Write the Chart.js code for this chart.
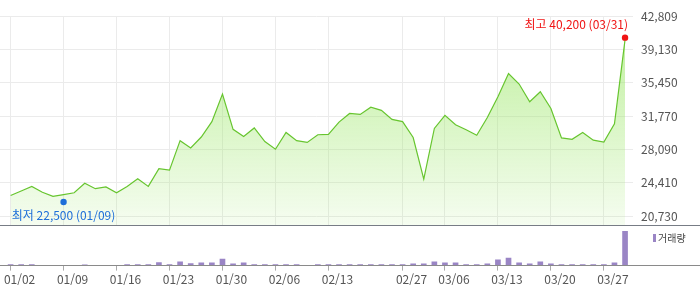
<!DOCTYPE html>
<html lang="ko">
<head>
<meta charset="utf-8">
<script src="https://cdn.jsdelivr.net/npm/chart.js@4.4.1/dist/chart.umd.min.js"></script>
<style>
body { margin: 0; background: #fff; }
#wrap { width: 700px; height: 289px; position: relative; }
#pricebox { position: absolute; left: 0; top: 0; width: 700px; height: 225px; }
#volbox { position: absolute; left: 0; top: 225px; width: 700px; height: 64px; }
</style>
</head>
<body>
<div id="wrap">
  <div id="pricebox"><canvas id="priceChart"></canvas></div>
  <div id="volbox"><canvas id="volChart"></canvas></div>
</div>
<script>
// trading days (holidays skipped)
const dates = [
  '01/02', '01/05', '01/06', '01/07', '01/08', '01/09', '01/12', '01/13', '01/14', '01/15',
  '01/16', '01/19', '01/20', '01/21', '01/22', '01/23', '01/26', '01/27', '01/28', '01/29',
  '01/30', '02/02', '02/03', '02/04', '02/05', '02/06', '02/09', '02/10', '02/11', '02/12',
  '02/13', '02/19', '02/20', '02/23', '02/24', '02/25', '02/26', '02/27', '03/03', '03/04',
  '03/05', '03/06', '03/09', '03/10', '03/11', '03/12', '03/13', '03/16', '03/17', '03/18',
  '03/19', '03/20', '03/23', '03/24', '03/25', '03/26', '03/27', '03/30', '03/31'
];

const prices = [
  23000, 23500, 24000, 23350, 22900, 23100, 23300, 24350, 23750, 23950,
  23300, 24000, 24850, 24000, 25950, 25800, 29050, 28250, 29450, 31150,
  34200, 30300, 29500, 30450, 28950, 28100, 29950, 29050, 28850, 29700,
  29750, 31100, 32050, 31950, 32750, 32400, 31400, 31150, 29400, 24800,
  30400, 31850, 30800, 30250, 29650, 31600, 33900, 36450, 35300, 33350,
  34450, 32600, 29350, 29200, 29950, 29100, 28900, 30900, 40200
];

const volumes = [
  95000, 110000, 100000, 20000, 15000, 20000, 25000, 90000, 20000, 15000,
  20000, 100000, 110000, 100000, 310000, 100000, 400000, 210000, 300000, 300000,
  700000, 200000, 300000, 100000, 110000, 100000, 100000, 100000, 20000, 100000,
  100000, 110000, 100000, 100000, 110000, 100000, 100000, 100000, 200000, 200000,
  400000, 300000, 300000, 100000, 100000, 200000, 600000, 800000, 300000, 200000,
  400000, 200000, 100000, 100000, 100000, 100000, 100000, 300000, 3630000
];

const priceTicks = [20730, 24410, 28090, 31770, 35450, 39130, 42809];
const dateTicks = ['01/02', '01/09', '01/16', '01/23', '01/30', '02/06', '02/13', '02/27', '03/06', '03/13', '03/20', '03/27'];
const highPoint = { date: '03/31', value: 40200 };
const lowPoint = { date: '01/09', value: 22500 };

const FONT = "'Noto Sans CJK KR', 'Noto Sans', sans-serif";
const tickIdx = dateTicks.map(d => dates.indexOf(d));
const xMin = -1;
const xMax = dates.length - 0.25;

function setDateTicks(scale) { scale.ticks = tickIdx.map(v => ({ value: v })); }
function noSidePad(scale) { scale.paddingLeft = 0; scale.paddingRight = 0; }

// high / low markers with their labels
const markPlugin = {
  id: 'marks',
  afterDatasetsDraw(chart) {
    const { ctx, chartArea, scales: { x, y } } = chart;
    ctx.save();
    ctx.font = '12px ' + FONT;
    ctx.textBaseline = 'middle';
    [[highPoint, '#f01414', -1, '최고 '], [lowPoint, '#1e6fd9', 1, '최저 ']].forEach(([pt, color, dir, word]) => {
      const px = x.getPixelForValue(dates.indexOf(pt.date));
      const py = y.getPixelForValue(pt.value) + dir * 2;
      ctx.fillStyle = color;
      ctx.beginPath();
      ctx.arc(px, py, 3.2, 0, Math.PI * 2);
      ctx.fill();
      const text = word + pt.value.toLocaleString('en-US') + ' (' + pt.date + ')';
      const w = ctx.measureText(text).width;
      let tx = px;
      ctx.textAlign = 'center';
      if (px + w / 2 > chartArea.right) { tx = px + 3; ctx.textAlign = 'right'; }
      ctx.fillText(text, tx, py + dir * 13);
    });
    ctx.restore();
  }
};

// separator, baseline and the "거래량" legend
const volPlugin = {
  id: 'volDeco',
  afterDraw(chart) {
    const { ctx, chartArea, width } = chart;
    ctx.save();
    ctx.lineWidth = 1;
    ctx.strokeStyle = '#777c85';
    ctx.beginPath(); ctx.moveTo(0, 0.5); ctx.lineTo(width, 0.5); ctx.stroke();
    const by = Math.floor(chartArea.bottom) + 0.5;
    ctx.strokeStyle = '#8a8a8a';
    ctx.beginPath(); ctx.moveTo(0, by); ctx.lineTo(width, by); ctx.stroke();
    ctx.fillStyle = '#9a85c5';
    ctx.fillRect(653, 9, 3, 8);
    ctx.fillStyle = '#444';
    ctx.font = '10px ' + FONT;
    ctx.textBaseline = 'middle';
    ctx.textAlign = 'left';
    ctx.fillText('거래량', 658, 13.5);
    ctx.restore();
  }
};

new Chart(document.getElementById('priceChart'), {
  type: 'line',
  data: {
    datasets: [{
      data: prices.map((p, i) => ({ x: i, y: p })),
      borderColor: '#67c52f',
      borderWidth: 1.2,
      pointRadius: 0,
      tension: 0,
      fill: 'start',
      backgroundColor: ctx => {
        const area = ctx.chart.chartArea;
        if (!area) return 'rgba(0,0,0,0)';
        const g = ctx.chart.ctx.createLinearGradient(0, area.top, 0, area.bottom);
        g.addColorStop(0, 'rgba(160,232,110,0.7)');
        g.addColorStop(1, 'rgba(160,232,110,0.1)');
        return g;
      }
    }]
  },
  options: {
    responsive: true,
    maintainAspectRatio: false,
    animation: false,
    layout: { padding: { top: 16, left: 0, right: 0, bottom: 0 } },
    plugins: { legend: { display: false }, tooltip: { enabled: false } },
    scales: {
      x: {
        type: 'linear', min: xMin, max: xMax,
        afterBuildTicks: setDateTicks,
        afterFit: s => { noSidePad(s); s.height = 0; },
        ticks: { display: false },
        grid: { color: '#ebebeb', drawTicks: false },
        border: { display: false }
      },
      y: {
        position: 'right', min: 19740, max: 42809,
        afterBuildTicks: s => { s.ticks = priceTicks.map(v => ({ value: v })); },
        afterFit: s => { s.width = 67; s.paddingTop = 0; s.paddingBottom = 0; },
        ticks: { color: '#555', padding: 8, font: { family: FONT, size: 12 }, callback: v => v.toLocaleString('en-US') },
        grid: { color: '#ebebeb', drawTicks: false },
        border: { display: false }
      }
    }
  },
  plugins: [markPlugin]
});

new Chart(document.getElementById('volChart'), {
  type: 'bar',
  data: {
    datasets: [{
      data: volumes.map((v, i) => ({ x: i, y: v })),
      backgroundColor: '#9a85c5',
      barThickness: 5
    }]
  },
  options: {
    responsive: true,
    maintainAspectRatio: false,
    animation: false,
    layout: { padding: 0 },
    plugins: { legend: { display: false }, tooltip: { enabled: false } },
    scales: {
      x: {
        type: 'linear', min: xMin, max: xMax, offset: false,
        afterBuildTicks: setDateTicks,
        afterFit: noSidePad,
        ticks: { color: '#555', padding: 2, labelOffset: 9, maxRotation: 0, font: { family: FONT, size: 12 }, callback: v => dates[v] },
        grid: { offset: false, drawOnChartArea: false, tickLength: 5, color: '#aaa' },
        border: { display: false }
      },
      y: {
        position: 'right', min: 0, max: 4300000,
        afterFit: s => { s.width = 67; },
        ticks: { display: false },
        grid: { display: false },
        border: { display: false }
      }
    }
  },
  plugins: [volPlugin]
});
</script>
</body>
</html>
